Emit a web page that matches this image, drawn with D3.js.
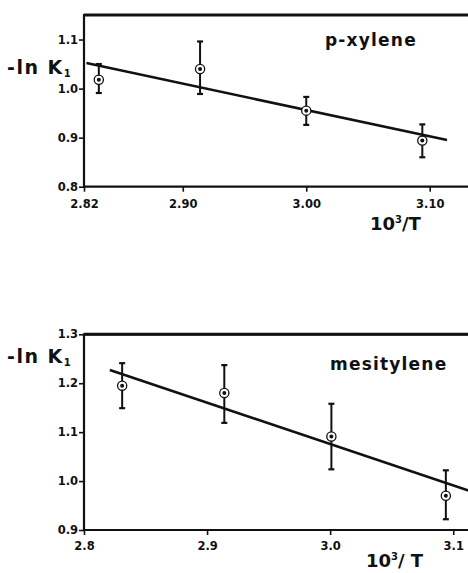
<!DOCTYPE html>
<html>
<head>
<meta charset="utf-8">
<script src="https://cdnjs.cloudflare.com/ajax/libs/d3/7.8.5/d3.min.js"></script>
<style>
  body { margin: 0; background: #fff; }
  svg { display: block; }
  .tick text { font-family: "DejaVu Sans", sans-serif; font-weight: bold; font-size: 11.5px; fill: #111; }
  .lbl { font-family: "DejaVu Sans", sans-serif; font-weight: bold; fill: #111; }
</style>
</head>
<body>
<div id="chart"></div>
<script>
// p-xylene panel
var pxX = [2.832, 2.914, 3.000, 3.094];
var pxY = [1.018, 1.040, 0.955, 0.894];
var pxLo = [0.991, 0.989, 0.926, 0.860];
var pxHi = [1.050, 1.096, 0.983, 0.927];
var pxFitX = [2.822, 3.114];
var pxFitY = [1.052, 0.895];
var pxXTicks = [2.82, 2.90, 3.00, 3.10];
var pxYTicks = [0.8, 0.9, 1.0, 1.1];

// mesitylene panel
var meX = [2.831, 2.914, 3.001, 3.094];
var meY = [1.195, 1.180, 1.091, 0.970];
var meLo = [1.149, 1.119, 1.024, 0.922];
var meHi = [1.241, 1.237, 1.158, 1.022];
var meFitX = [2.821, 3.113];
var meFitY = [1.227, 0.980];
var meXTicks = [2.8, 2.9, 3.0, 3.1];
var meYTicks = [0.9, 1.0, 1.1, 1.2, 1.3];

var width = 468, height = 573;

var svg = d3.select("#chart").append("svg")
    .attr("width", width)
    .attr("height", height);

//draws one panel, top/bottom are pixel rows of the frame
function panel(cfg) {
    var x = d3.scaleLinear().domain(cfg.xDomain).range([84, width]);
    var y = d3.scaleLinear().domain(cfg.yDomain).range([cfg.bottom, cfg.top]);
    var g = svg.append("g");

    //frame: top, left, bottom
    g.append("path")
        .attr("d", "M" + width + "," + cfg.top + "H84V" + cfg.bottom + "H" + width)
        .style("fill", "none")
        .style("stroke", "#111")
        .style("stroke-width", 2.2);
    g.append("line")
        .attr("x1", 84).attr("x2", width)
        .attr("y1", cfg.top).attr("y2", cfg.top)
        .style("stroke", "#111")
        .style("stroke-width", 3);

    var xAxis = g.append("g")
        .attr("transform", "translate(0," + cfg.bottom + ")")
        .call(d3.axisBottom(x).tickValues(cfg.xTicks).tickFormat(d3.format(cfg.xFmt))
            .tickSize(5).tickPadding(cfg.xPad));
    var yAxis = g.append("g")
        .attr("transform", "translate(84,0)")
        .call(d3.axisLeft(y).tickValues(cfg.yTicks).tickFormat(d3.format(".1f"))
            .tickSize(5).tickPadding(1));
    [xAxis, yAxis].forEach(function(a) {
        a.select(".domain").remove();
        a.selectAll(".tick line").style("stroke", "#111").style("stroke-width", 1.6);
    });

    //fitted line
    var fit = cfg.fitX.map(function(v, i) { return [v, cfg.fitY[i]]; });
    g.append("path")
        .datum(fit)
        .attr("d", d3.line().x(function(d) { return x(d[0]); }).y(function(d) { return y(d[1]); }))
        .style("stroke", "#111")
        .style("stroke-width", 2.6)
        .style("fill", "none");

    var pts = cfg.xs.map(function(v, i) {
        return { x: v, y: cfg.ys[i], lo: cfg.lo[i], hi: cfg.hi[i] };
    });

    //error bars
    var bars = g.selectAll(".bar").data(pts).enter().append("g").attr("class", "bar");
    bars.append("line")
        .attr("x1", function(d) { return x(d.x); })
        .attr("x2", function(d) { return x(d.x); })
        .attr("y1", function(d) { return y(d.lo); })
        .attr("y2", function(d) { return y(d.hi); })
        .style("stroke", "#111").style("stroke-width", 2);
    ["lo", "hi"].forEach(function(k) {
        bars.append("line")
            .attr("x1", function(d) { return x(d.x) - 3; })
            .attr("x2", function(d) { return x(d.x) + 3; })
            .attr("y1", function(d) { return y(d[k]); })
            .attr("y2", function(d) { return y(d[k]); })
            .style("stroke", "#111").style("stroke-width", 2.2);
    });

    //points: ring with centre dot
    bars.append("circle")
        .attr("cx", function(d) { return x(d.x); })
        .attr("cy", function(d) { return y(d.y); })
        .attr("r", 4.6)
        .style("fill", "#fff")
        .style("stroke", "#111")
        .style("stroke-width", 1.3);
    bars.append("circle")
        .attr("cx", function(d) { return x(d.x); })
        .attr("cy", function(d) { return y(d.y); })
        .attr("r", 2)
        .style("fill", "#111");

    //labels
    var yl = g.append("text").attr("class", "lbl")
        .attr("x", 7).attr("y", cfg.yLblY)
        .style("font-size", "19px")
        .style("letter-spacing", "1.5px");
    yl.append("tspan").text("-ln  K");
    yl.append("tspan").text("1").attr("dy", 3).style("font-size", "10px");

    g.append("text").attr("class", "lbl")
        .attr("x", cfg.nameX).attr("y", cfg.nameY)
        .style("font-size", "17px")
        .style("letter-spacing", "1.2px")
        .text(cfg.name);

    var xl = g.append("text").attr("class", "lbl")
        .attr("x", cfg.xLblX).attr("y", cfg.xLblY)
        .style("font-size", "18px");
    xl.append("tspan").text("10");
    xl.append("tspan").text("3").attr("dy", -7).style("font-size", "10px");
    xl.append("tspan").text(cfg.slash + "T").attr("dy", 7);
}

panel({
    top: 15, bottom: 186.7,
    xDomain: [2.82, 3.131], yDomain: [0.8, 1.15],
    xs: pxX, ys: pxY, lo: pxLo, hi: pxHi, fitX: pxFitX, fitY: pxFitY,
    xTicks: pxXTicks, yTicks: pxYTicks, xFmt: ".2f", xPad: 8,
    name: "p-xylene", nameX: 325, nameY: 46,
    yLblY: 74, xLblX: 370, xLblY: 230, slash: "/"
});

panel({
    top: 334.3, bottom: 530,
    xDomain: [2.8, 3.112], yDomain: [0.9, 1.3],
    xs: meX, ys: meY, lo: meLo, hi: meHi, fitX: meFitX, fitY: meFitY,
    xTicks: meXTicks, yTicks: meYTicks, xFmt: ".1f", xPad: 7,
    name: "mesitylene", nameX: 330, nameY: 370,
    yLblY: 363, xLblX: 366, xLblY: 567, slash: "/ "
});
</script>
</body>
</html>
